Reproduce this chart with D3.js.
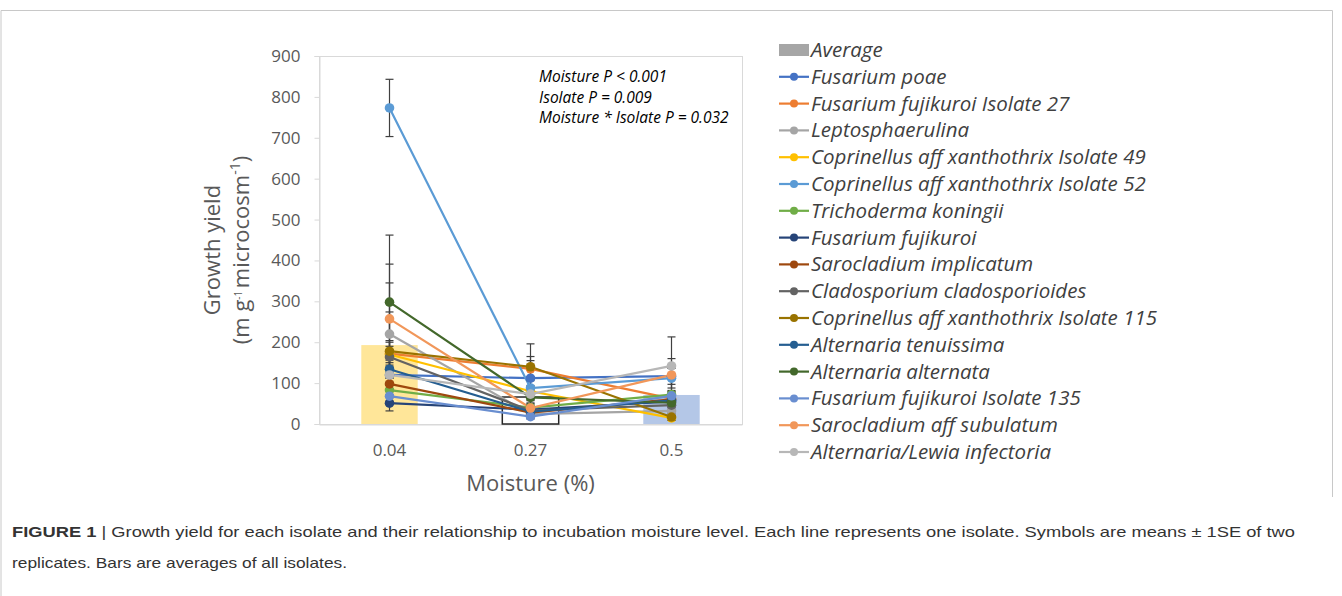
<!DOCTYPE html>
<html>
<head>
<meta charset="utf-8">
<title>Growth yield vs moisture</title>
<script src="https://d3js.org/d3.v7.min.js"></script>
<style>
  body { margin: 0; background: #fff; }
</style>
</head>
<body>
<script>
	var width  = 1342;
	var height = 596;
	var chartFont = "'Open Sans', Lato, sans-serif";

	// moisture levels (x categories)
	var moisture = ["0.04", "0.27", "0.5"];

	// average of all isolates per moisture level
	var averages = [193, 66, 71];
	var barColours = ["#FFE699", "#FFFFFF", "#B4C7E7"];

	// isolates, in legend order
	var isolates = [
		"Fusarium poae",
		"Fusarium fujikuroi Isolate 27",
		"Leptosphaerulina",
		"Coprinellus aff xanthothrix Isolate 49",
		"Coprinellus aff xanthothrix Isolate 52",
		"Trichoderma koningii",
		"Fusarium fujikuroi",
		"Sarocladium implicatum",
		"Cladosporium cladosporioides",
		"Coprinellus aff xanthothrix Isolate 115",
		"Alternaria tenuissima",
		"Alternaria alternata",
		"Fusarium fujikuroi Isolate 135",
		"Sarocladium aff subulatum",
		"Alternaria/Lewia infectoria"
	];
	var colours = ["#4472C4", "#ED7D31", "#A5A5A5", "#FFC000", "#5B9BD5", "#70AD47", "#264478",
		"#9E480E", "#636363", "#997300", "#255E91", "#43682B", "#698ED0", "#F1975A", "#B7B7B7"];

	// means at 0.04, 0.27, 0.5
	var means = [
		[120, 112, 117],
		[172, 135, 62],
		[220, 24, 32],
		[170, 80, 15],
		[773, 88, 112],
		[83, 40, 72],
		[51, 35, 55],
		[98, 28, 60],
		[164, 33, 46],
		[178, 140, 17],
		[134, 30, 58],
		[298, 65, 52],
		[68, 18, 69],
		[257, 39, 120],
		[120, 73, 142]
	];
	// standard errors
	var errors = [
		[18, 53, 20],
		[28, 20, 14],
		[125, 10, 12],
		[20, 14, 6],
		[70, 18, 24],
		[12, 8, 10],
		[19, 8, 10],
		[14, 8, 10],
		[40, 10, 10],
		[96, 56, 8],
		[22, 10, 12],
		[164, 14, 12],
		[12, 6, 10],
		[134, 12, 40],
		[20, 16, 71]
	];

	var stats = ["Moisture P < 0.001", "Isolate P = 0.009", "Moisture * Isolate P = 0.032"];
	var yTicks = [0, 100, 200, 300, 400, 500, 600, 700, 800, 900];

	var plot = { left: 319, right: 742, top: 56, bottom: 424 };

	var xScale = d3.scaleBand().domain(moisture).range([plot.left, plot.right]).padding(0);
	var yScale = d3.scaleLinear().domain([0, 900]).range([plot.bottom, plot.top]);

	var svg = d3.select("body").append("svg")
		.attr("width", width)
		.attr("height", height)
		.style("font-family", chartFont);

	// figure frame
	svg.append("path")
		.attr("d", "M1,596 V10.5 H1332.5 V497")
		.attr("fill", "none").attr("stroke", "#c8c8c8").attr("stroke-width", 1);

	// plot area border
	svg.append("rect")
		.attr("x", plot.left + 0.5).attr("y", plot.top + 0.5)
		.attr("width", plot.right - plot.left).attr("height", plot.bottom - plot.top)
		.attr("fill", "none").attr("stroke", "#d9d9d9");

	// y axis
	var yAxis = svg.append("g")
		.attr("transform", "translate(" + (plot.left + 0.5) + ",0)")
		.call(d3.axisLeft(yScale).tickValues(yTicks).tickSize(5).tickPadding(14));
	yAxis.select(".domain").attr("stroke", "#d9d9d9");
	yAxis.selectAll(".tick line").attr("stroke", "#d9d9d9");
	yAxis.selectAll(".tick text").attr("fill", "#595959").style("font-size", "17px")
		.style("font-family", chartFont);

	// x axis
	var xAxis = svg.append("g")
		.attr("transform", "translate(0," + (plot.bottom + 0.5) + ")")
		.call(d3.axisBottom(xScale).tickSize(0).tickPadding(19));
	xAxis.select(".domain").attr("stroke", "#d9d9d9");
	xAxis.selectAll(".tick text").attr("fill", "#595959").style("font-size", "17px")
		.style("font-family", chartFont);

	// average bars
	var barW = xScale.bandwidth() * 0.4;
	svg.selectAll(".bar").data(averages).enter().append("rect")
		.attr("class", "bar")
		.attr("x", (d, i) => xScale(moisture[i]) + xScale.bandwidth() / 2 - barW / 2)
		.attr("y", d => yScale(d))
		.attr("width", barW)
		.attr("height", d => plot.bottom - yScale(d))
		.attr("fill", (d, i) => barColours[i])
		.attr("stroke", (d, i) => i == 1 ? "#262626" : "none")
		.attr("stroke-width", 1.5);

	var cx = m => xScale(m) + xScale.bandwidth() / 2;
	var line = d3.line().x((d, i) => cx(moisture[i])).y(d => yScale(d));

	// isolate lines
	svg.selectAll(".iso").data(means).enter().append("path")
		.attr("class", "iso")
		.attr("d", d => line(d))
		.attr("fill", "none")
		.attr("stroke", (d, i) => colours[i])
		.attr("stroke-width", 2.2);

	// error bars
	var errG = svg.append("g").attr("stroke", "#404040").attr("stroke-width", 1.2);
	means.forEach(function(row, s) {
		row.forEach(function(v, i) {
			var x = cx(moisture[i]);
			var lo = yScale(Math.max(0, v - errors[s][i]));
			var hi = yScale(v + errors[s][i]);
			errG.append("line").attr("x1", x).attr("x2", x).attr("y1", lo).attr("y2", hi);
			errG.append("line").attr("x1", x - 4).attr("x2", x + 4).attr("y1", lo).attr("y2", lo);
			errG.append("line").attr("x1", x - 4).attr("x2", x + 4).attr("y1", hi).attr("y2", hi);
		});
	});

	// markers
	means.forEach(function(row, s) {
		svg.append("g").selectAll("circle").data(row).enter().append("circle")
			.attr("cx", (d, i) => cx(moisture[i]))
			.attr("cy", d => yScale(d))
			.attr("r", 4.8)
			.attr("fill", colours[s]);
	});

	// statistics note
	svg.append("g").selectAll("text").data(stats).enter().append("text")
		.attr("x", 539)
		.attr("y", (d, i) => 82 + i * 20.5)
		.attr("font-style", "italic")
		.attr("fill", "#000")
		.style("font-size", "15.5px")
		.text(d => d);

	// axis titles
	var yTitle = svg.append("g").attr("transform", "translate(0,250) rotate(-90)")
		.attr("fill", "#595959").style("font-size", "22px");
	yTitle.append("text").attr("x", 0).attr("y", 220).attr("text-anchor", "middle").text("Growth yield");
	var yt2 = yTitle.append("text").attr("x", 0).attr("y", 249).attr("text-anchor", "middle");
	yt2.append("tspan").text("(m g");
	yt2.append("tspan").attr("baseline-shift", "super").style("font-size", "10px").text("-1 ");
	yt2.append("tspan").text("microcosm");
	yt2.append("tspan").attr("baseline-shift", "super").style("font-size", "14px").text("-1");
	yt2.append("tspan").text(")");

	svg.append("text").attr("x", cx("0.27")).attr("y", 491)
		.attr("text-anchor", "middle").attr("fill", "#595959")
		.style("font-size", "22px").text("Moisture (%)");

	// legend
	var legend = svg.append("g").attr("transform", "translate(779,50)");
	var rowH = 26.8;
	legend.append("rect").attr("x", 0).attr("y", -6).attr("width", 30).attr("height", 12).attr("fill", "#A6A6A6");
	legend.append("text").attr("x", 32).attr("y", 7).attr("font-style", "italic")
		.attr("fill", "#404040").style("font-size", "20.5px").text("Average");
	isolates.forEach(function(name, i) {
		var g = legend.append("g").attr("transform", "translate(0," + ((i + 1) * rowH) + ")");
		g.append("line").attr("x1", 0).attr("x2", 30).attr("y1", 0).attr("y2", 0)
			.attr("stroke", colours[i]).attr("stroke-width", 2.2);
		g.append("circle").attr("cx", 15).attr("cy", 0).attr("r", 4).attr("fill", colours[i]);
		g.append("text").attr("x", 32).attr("y", 7).attr("font-style", "italic")
			.attr("fill", "#404040").style("font-size", "20.5px").text(name);
	});

	// caption
	var capFont = "'Liberation Sans', Arial, sans-serif";
	var c1 = svg.append("text").attr("x", 12).attr("y", 537).attr("fill", "#333")
		.style("font-family", capFont).style("font-size", "15px")
		.attr("textLength", 1283).attr("lengthAdjust", "spacingAndGlyphs");
	c1.append("tspan").attr("font-weight", "bold").text("FIGURE 1");
	c1.append("tspan").text(" | Growth yield for each isolate and their relationship to incubation moisture level. Each line represents one isolate. Symbols are means \u00b1 1SE of two");
	svg.append("text").attr("x", 12).attr("y", 568).attr("fill", "#333")
		.style("font-family", capFont).style("font-size", "15px")
		.attr("textLength", 335).attr("lengthAdjust", "spacingAndGlyphs")
		.text("replicates. Bars are averages of all isolates.");
</script>
</body>
</html>
